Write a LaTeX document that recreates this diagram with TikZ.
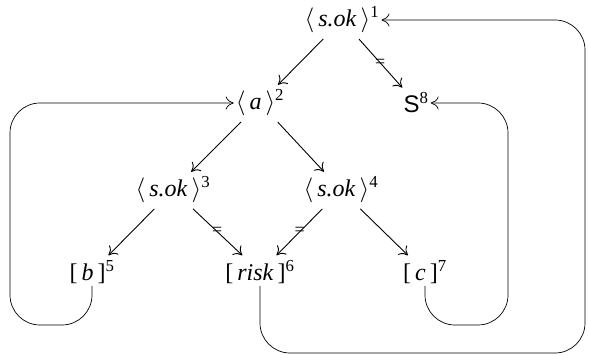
\documentclass[tikz,border=0pt]{standalone}
\usepackage{amsmath}
\usepackage{fontspec}
\setmainfont{Liberation Serif}
\newfontfamily\sansS{Liberation Sans}
\usetikzlibrary{arrows.meta}
\newcommand{\gp}{\hspace{4pt}}
\begin{document}
\begin{tikzpicture}[x=1pt,y=-1pt, font=\fontsize{24}{28}\selectfont,
  lbl/.style={inner sep=2pt},
  edge/.style={-{Computer Modern Rightarrow[length=8pt,width=13pt]}, line width=0.9pt, shorten <=5pt, shorten >=4pt},
  loopline/.style={-{Computer Modern Rightarrow[length=8pt,width=13pt]}, line width=0.7pt, rounded corners=30pt},
  eq/.style={inner sep=0pt, font=\fontsize{18}{18}\selectfont}]
\useasboundingbox (0,0) rectangle (589,355);
\node[lbl] (n1) at (342,20) {$\langle$\gp\textit{s.ok}\gp$\rangle^{\text{1}}$};
\node[lbl] (n2) at (260,103) {$\langle$\gp\textit{a}\gp$\rangle^{\text{2}}$};
\node[lbl] (n8) at (416,103) {{\sansS S}$^{\text{8}}$};
\node[lbl] (n3) at (173,190) {$\langle$\gp\textit{s.ok}\gp$\rangle^{\text{3}}$};
\node[lbl] (n4) at (341,190) {$\langle$\gp\textit{s.ok}\gp$\rangle^{\text{4}}$};
\node[lbl] (n5) at (92,272) {[\gp\textit{b}\gp]$^{\text{5}}$};
\node[lbl] (n6) at (260,272) {[\gp\textit{risk}\gp]$^{\text{6}}$};
\node[lbl] (n7) at (425,272) {[\gp\textit{c}\gp]$^{\text{7}}$};
\draw[edge] (n1) -- (n2);
\draw[edge] (n1) -- node[eq,pos=.5]{=} (n8);
\draw[edge] (n2) -- (n3);
\draw[edge] (n2) -- (n4);
\draw[edge] (n3) -- (n5);
\draw[edge] (n3) -- node[eq,pos=.5]{=} (n6);
\draw[edge] (n4) -- node[eq,pos=.5]{=} (n6);
\draw[edge] (n4) -- (n7);
\draw[loopline] (n5.south) -- (n5.south |- 0,325) -- (10,325) -- (n2.west -| 10,0) -- (n2.west);
\draw[loopline] (n7.south) -- (n7.south |- 0,325) -- (508,325) -- (n8.east -| 508,0) -- (n8.east);
\draw[loopline] (n6.south) -- (n6.south |- 0,353) -- (585,353) -- (n1.east -| 585,0) -- (n1.east);
\end{tikzpicture}
\end{document}
